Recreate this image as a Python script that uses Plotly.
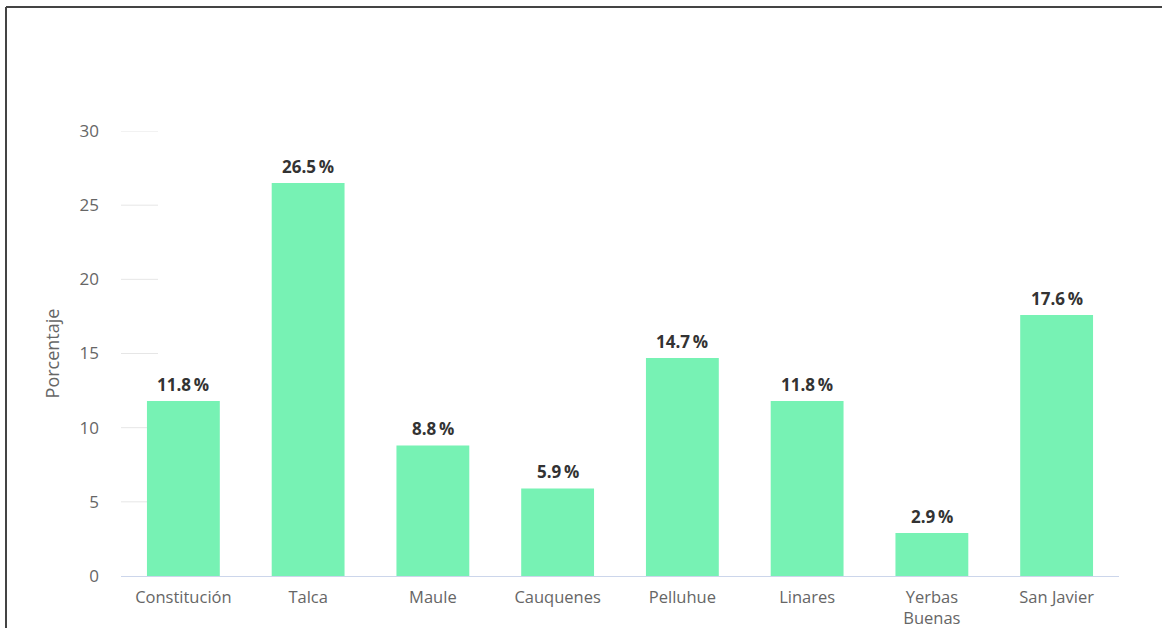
import plotly.graph_objects as go

categories = ["Constitución", "Talca", "Maule", "Cauquenes", "Pelluhue", "Linares", "Yerbas<br>Buenas", "San Javier"]
values = [11.8, 26.5, 8.8, 5.9, 14.7, 11.8, 2.9, 17.6]
y_ticks = [0, 5, 10, 15, 20, 25, 30]

labels = [f"{v:.1f}\u2009%" for v in values]

W, H = 1162, 628
ml = 121
mt = 131
plot_right = 1119
plot_bottom = 576
mr = W - plot_right
mb = H - plot_bottom
pw = W - ml - mr
ph = H - mt - mb

FONT = "Open Sans"

fig = go.Figure()
fig.add_trace(go.Bar(
    x=categories, y=values,
    marker=dict(color="#77F2B4", line=dict(width=0)),
    hoverinfo="skip",
))

for c, v, t in zip(categories, values, labels):
    fig.add_annotation(x=c, y=v, text=f"<b>{t}</b>", showarrow=False, yanchor="bottom",
                       yshift=3, font=dict(family=FONT, size=17, color="#333333"))

shapes = []
for t in y_ticks[1:]:
    shapes.append(dict(type="line", xref="paper", yref="y", x0=0, x1=37 / pw, y0=t, y1=t,
                       line=dict(color="#e6e6e6", width=1), layer="below"))
# frame border (top and left)
bx = (6 - ml) / pw
by = (plot_bottom - 7) / ph
shapes.append(dict(type="line", xref="paper", yref="paper", x0=bx, x1=(W - ml) / pw + 0.01, y0=by, y1=by,
                   line=dict(color="#444444", width=2)))
shapes.append(dict(type="line", xref="paper", yref="paper", x0=bx, x1=bx, y0=by, y1=-0.3,
                   line=dict(color="#444444", width=2)))

fig.update_layout(
    width=W, height=H,
    margin=dict(l=ml, r=mr, t=mt, b=mb, autoexpand=False),
    paper_bgcolor="white", plot_bgcolor="white",
    bargap=0.416,
    showlegend=False,
    font=dict(family=FONT, size=17, color="#666666"),
    shapes=shapes,
    xaxis=dict(showline=True, linecolor="#ccd6eb", linewidth=1, ticks="", showgrid=False,
               automargin=False, ticklabelstandoff=6,
               tickfont=dict(family=FONT, size=16.5, color="#666666"), fixedrange=True),
    yaxis=dict(range=[0, 30], tickvals=y_ticks, showgrid=False, zeroline=False, showline=False,
               ticks="", ticklabelstandoff=21, automargin=False,
               tickfont=dict(family=FONT, size=17, color="#666666"),
               title=dict(text="Porcentaje", font=dict(family=FONT, size=18, color="#666666"), standoff=15)),
)

fig.write_html("out.html", config={"displayModeBar": False},
               post_script="document.body.style.margin='0px';")
